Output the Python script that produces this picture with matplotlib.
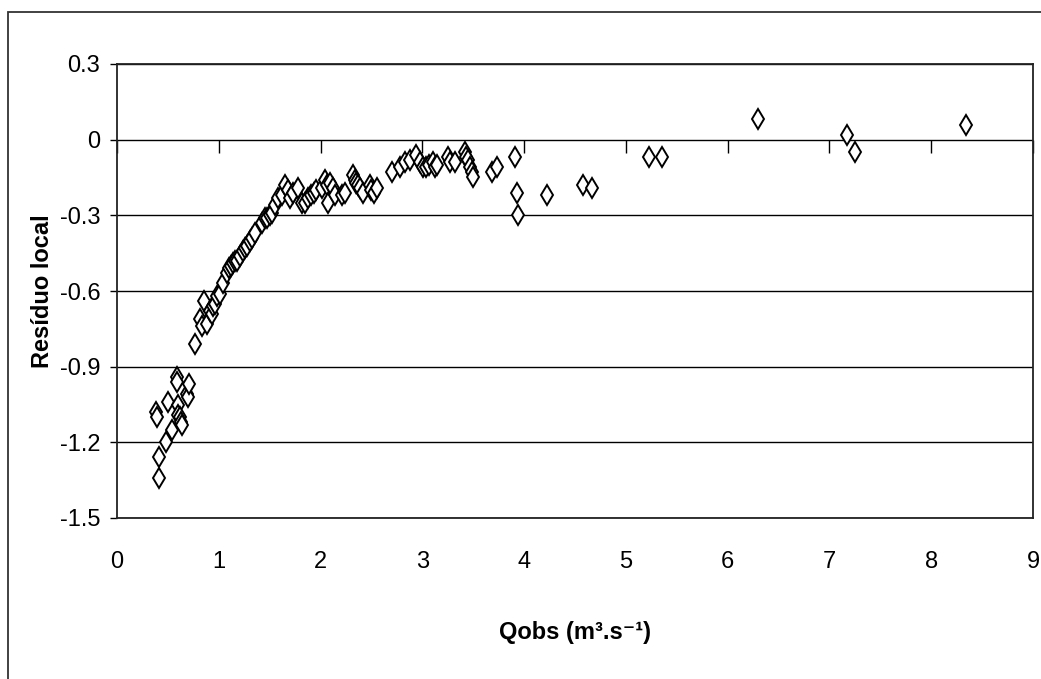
import matplotlib.pyplot as plt
from matplotlib.patches import Rectangle

# vazão observada (m3/s) e resíduo local de cada evento
qobs = [0.38, 0.39, 0.41, 0.41, 0.48, 0.50, 0.54, 0.59, 0.59, 0.60, 0.60, 0.62,
        0.63, 0.64, 0.69, 0.70, 0.71, 0.77,
        0.82, 0.84, 0.85, 0.88, 0.91, 0.93, 0.94, 0.96, 0.98, 1.01, 1.04, 1.08,
        1.10, 1.12, 1.14, 1.16, 1.18, 1.21, 1.24, 1.26, 1.28, 1.31, 1.33, 1.36,
        1.42, 1.45, 1.47, 1.50, 1.52, 1.55, 1.58, 1.62,
        1.65, 1.68, 1.70, 1.73, 1.78, 1.82, 1.85, 1.88, 1.91, 1.94, 1.96, 2.01,
        2.04, 2.06, 2.07, 2.09, 2.12, 2.14, 2.21, 2.24, 2.32, 2.34, 2.35, 2.37,
        2.39, 2.42, 2.49, 2.50, 2.53, 2.55, 2.70, 2.78, 2.83, 2.88, 2.94, 2.98,
        3.01, 3.04, 3.07, 3.10, 3.12, 3.14, 3.25, 3.27, 3.32, 3.42, 3.43, 3.45,
        3.47, 3.49, 3.50, 3.68, 3.73, 3.91, 3.93, 3.94, 4.22, 4.58, 4.67, 5.23,
        5.35, 6.30, 7.17, 7.25, 8.34]
residuo = [-1.08, -1.10, -1.26, -1.34, -1.20, -1.04, -1.15, -0.94, -0.96, -1.05,
           -1.09, -1.10, -1.12, -1.13, -1.01, -1.02, -0.97, -0.81,
           -0.71, -0.74, -0.64, -0.73, -0.68, -0.69, -0.66, -0.65, -0.62, -0.61,
           -0.57, -0.53, -0.51, -0.50, -0.49, -0.48, -0.48, -0.46, -0.44, -0.43,
           -0.42, -0.40, -0.39, -0.37, -0.33, -0.31, -0.31, -0.30, -0.29, -0.26,
           -0.23, -0.22,
           -0.18, -0.20, -0.23, -0.21, -0.19, -0.25, -0.25, -0.23, -0.22, -0.21,
           -0.20, -0.19, -0.16, -0.18, -0.25, -0.17, -0.19, -0.22, -0.22, -0.21,
           -0.14, -0.16, -0.17, -0.18, -0.19, -0.21, -0.18, -0.20, -0.21, -0.19,
           -0.13, -0.11, -0.09, -0.08, -0.06, -0.09, -0.11, -0.11, -0.10, -0.09,
           -0.11, -0.10, -0.07, -0.09, -0.09, -0.05, -0.07, -0.08, -0.11, -0.13,
           -0.15, -0.13, -0.11, -0.07, -0.21, -0.30, -0.22, -0.18, -0.19, -0.07,
           -0.07, 0.08, 0.02, -0.05, 0.06]

xticks = [0, 1, 2, 3, 4, 5, 6, 7, 8, 9]
yticks = [-1.5, -1.2, -0.9, -0.6, -0.3, 0, 0.3]
ylabels = ['-1.5', '-1.2', '-0.9', '-0.6', '-0.3', '0', '0.3']

plt.rcParams['font.family'] = ['Liberation Sans', 'DejaVu Sans']

fig = plt.figure(figsize=(10.41, 6.79), dpi=100)
ax = fig.add_axes([117 / 1041, 1 - 518 / 679, 916 / 1041, 454 / 679])

ax.plot(qobs, residuo, linestyle='none', marker='d', markersize=10.5,
        markerfacecolor='white', markeredgecolor='black', markeredgewidth=1.4,
        clip_on=False, zorder=3)

ax.set_xlim(0, 9)
ax.set_ylim(-1.5, 0.3)
ax.set_yticks(yticks)
ax.set_yticklabels(ylabels)
ax.set_xticks(xticks)
ax.tick_params(axis='x', length=0, pad=24, labelsize=17)
ax.tick_params(axis='y', length=5, width=1, direction='out', pad=7, labelsize=17)
ax.grid(axis='y', color='black', linewidth=1)
ax.set_axisbelow(True)
for s in ax.spines.values():
    s.set_linewidth(1.3)
    s.set_color('#222222')

# eixo horizontal cruzando em y = 0, só com as marcas de escala
eixo0 = ax.secondary_xaxis((0 + 1.5) / 1.8)
eixo0.set_xticks(xticks, labels=[''] * len(xticks))
eixo0.xaxis.set_ticks_position('bottom')
eixo0.tick_params(axis='x', direction='out', length=9, width=1)
for s in eixo0.spines.values():
    s.set_visible(False)

ax.set_xlabel('Qobs (m³.s⁻¹)', fontsize=17, fontweight='bold', labelpad=34)
ax.set_ylabel('Resíduo local', fontsize=17, fontweight='bold', labelpad=4)

# moldura externa da área do gráfico
fig.add_artist(Rectangle((8 / 1041, -0.1), 1.2, 1 - 12 / 679 + 0.1,
                         transform=fig.transFigure, fill=False,
                         edgecolor='#333333', linewidth=1.3))

fig.savefig('out.png', dpi=100)
